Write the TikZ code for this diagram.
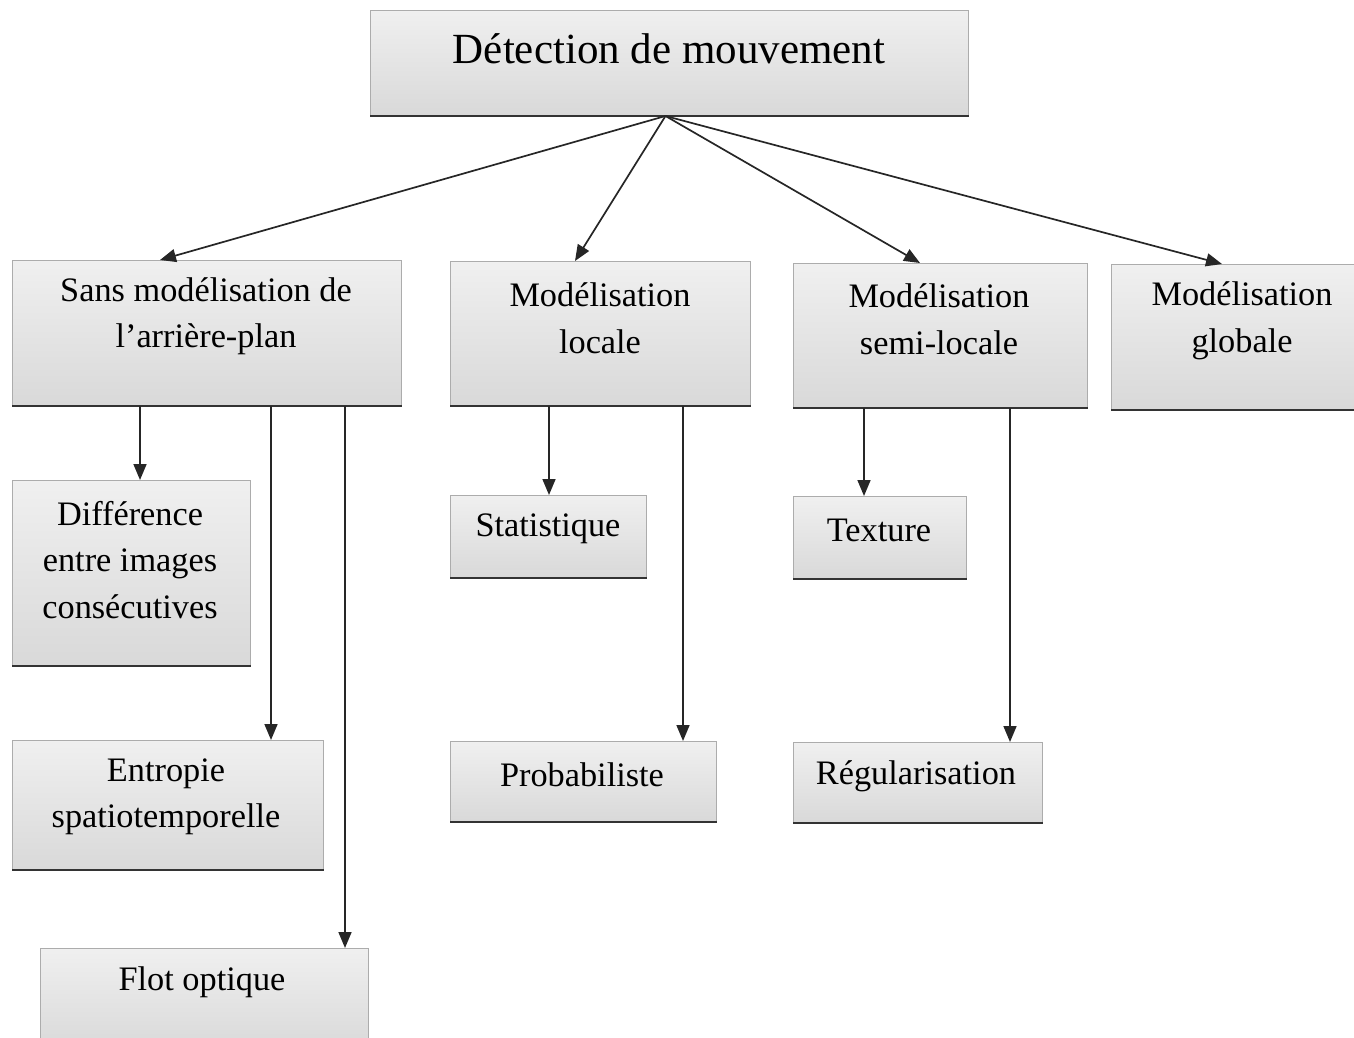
\documentclass[tikz,border=0pt]{standalone}
\usepackage{fontspec}
\setmainfont{Liberation Serif}
\usetikzlibrary{arrows.meta,calc}
\begin{document}
\begin{tikzpicture}[x=1pt,y=-1pt,
  boxshape/.style={rectangle, inner sep=0pt, anchor=north west,
    top color=gray!12, bottom color=gray!30, draw=gray!65, line width=1pt},
  shadowline/.style={draw=gray!40!black, line width=2pt},
  lbl/.style={align=center, inner sep=0pt, font=\fontsize{34.3}{46.5}\selectfont},
  titlelbl/.style={inner sep=0pt, font=\fontsize{43}{50}\selectfont},
  arr/.style={-{Triangle[length=16pt,width=13pt]}, line width=1.7pt, black!85}]
\useasboundingbox (0,0) rectangle (1354,1037);

% box: name, left, top, right, bottom
\newcommand\drawpanel[5]{%
  \node[boxshape, minimum width={#4pt-#2pt}, minimum height={#5pt-#3pt}] (#1) at (#2,#3) {};
  \draw[shadowline] (#1.south west) -- (#1.south east);
}

\drawpanel{title}{370}{10}{968}{115}
\drawpanel{sans}{12}{260}{401}{405}
\drawpanel{locale}{450}{261}{750}{405}
\drawpanel{semi}{793}{263}{1087}{407}
\drawpanel{globale}{1111}{264}{1380}{409}
\drawpanel{diff}{12}{480}{250}{665}
\drawpanel{entropie}{12}{740}{323}{869}
\drawpanel{flot}{40}{948}{368}{1050}
\drawpanel{stat}{450}{495}{646}{577}
\drawpanel{proba}{450}{741}{716}{821}
\drawpanel{texture}{793}{496}{966}{578}
\drawpanel{regul}{793}{742}{1042}{822}

% texts
\node[titlelbl] (t-title) at (669,49) {Détection de mouvement};
\node[lbl] (t-sans) at (206,316) {Sans modélisation de\\l’arrière-plan};
\node[lbl] (t-locale) at (600,318) {Modélisation\\locale};
\node[lbl] (t-semi) at (939,319) {Modélisation\\semi-locale};
\node[lbl] (t-globale) at (1242,321) {Modélisation\\globale};
\node[lbl] (t-diff) at (130,560) {Différence\\entre images\\consécutives};
\node[lbl] (t-entropie) at (166,797) {Entropie\\spatiotemporelle};
\node[lbl] (t-flot) at (202,982) {Flot optique};
\node[lbl] (t-stat) at (548,529) {Statistique};
\node[lbl] (t-proba) at (582,775) {Probabiliste};
\node[lbl] (t-texture) at (879,530) {Texture};
\node[lbl] (t-regul) at (916,776) {Régularisation};

% branches from the root
\coordinate (root) at ([xshift=-4pt]title.south);
\draw[arr] (root) -- ([xshift=148pt]sans.north west);
\draw[arr] (root) -- ([xshift=125pt]locale.north west);
\draw[arr] (root) -- ([xshift=127pt]semi.north west);
\draw[arr] (root) -- ([xshift=111pt]globale.north west);

% vertical drops
\coordinate (s1) at ([xshift=128pt]sans.south west);
\coordinate (s2) at ([xshift=259pt]sans.south west);
\coordinate (s3) at ([xshift=333pt]sans.south west);
\coordinate (l1) at ([xshift=99pt]locale.south west);
\coordinate (l2) at ([xshift=233pt]locale.south west);
\coordinate (m1) at ([xshift=71pt]semi.south west);
\coordinate (m2) at ([xshift=217pt]semi.south west);
\draw[arr] (s1) -- (s1 |- diff.north);
\draw[arr] (s2) -- (s2 |- entropie.north);
\draw[arr] (s3) -- (s3 |- flot.north);
\draw[arr] (l1) -- (l1 |- stat.north);
\draw[arr] (l2) -- (l2 |- proba.north);
\draw[arr] (m1) -- (m1 |- texture.north);
\draw[arr] (m2) -- (m2 |- regul.north);
\end{tikzpicture}
\end{document}
